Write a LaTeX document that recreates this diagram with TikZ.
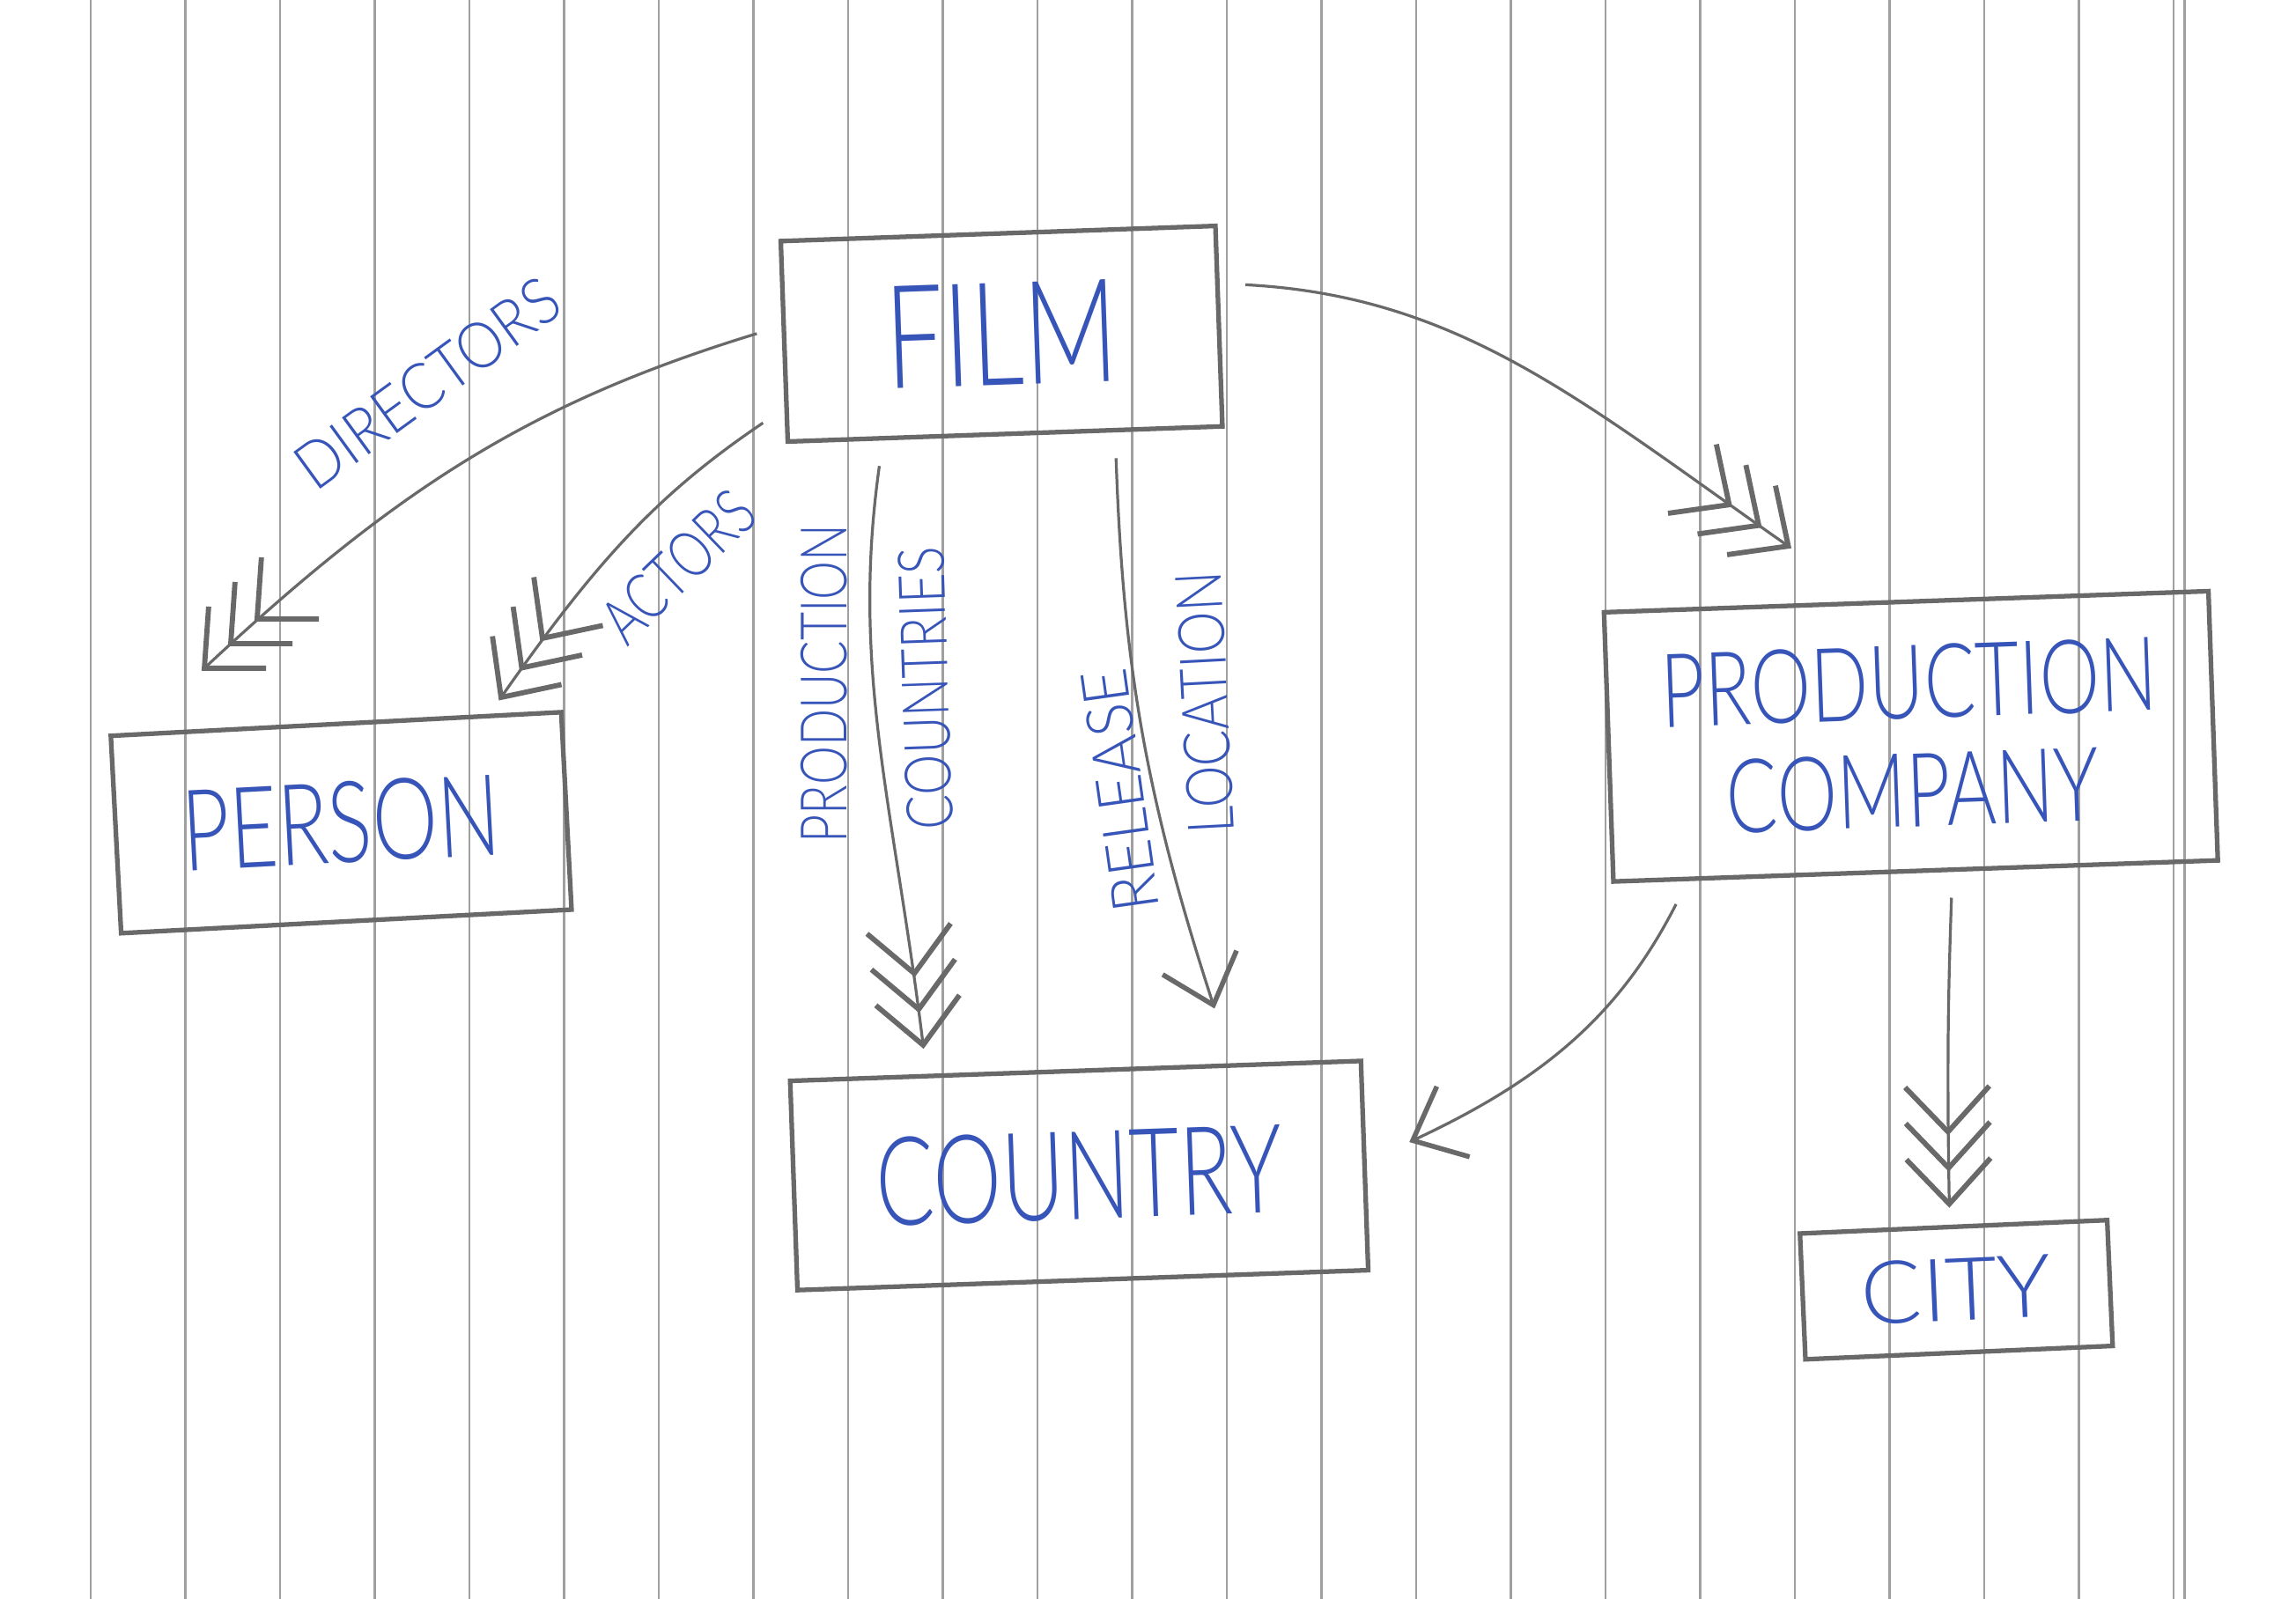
\documentclass[tikz,border=0pt]{standalone}
\usepackage{fontspec}
\usepackage{graphicx}
\setmainfont{Lato}[UprightFont=* Light]
\usetikzlibrary{arrows.meta}

\definecolor{ink}{RGB}{55,85,185}
\definecolor{pencil}{RGB}{105,105,105}
\definecolor{ruling}{RGB}{160,160,160}
\newcommand{\hand}[2][0.8]{\scalebox{#1}[1]{#2}}

\begin{document}
\begin{tikzpicture}[>={Straight Barb[angle=82:11.5pt,line width=0.95pt]},thin]
    \tikzset{entity/.style={draw=pencil, line width=0.9pt, inner sep=0pt, text=ink}}
    \tikzset{role/.style={text=ink, inner sep=0pt, font=\fontsize{12.5}{14}\selectfont}}
    \tikzset{link/.style={draw=pencil, line width=0.55pt, shorten <=5pt}}
    \tikzset{many/.style={-{Straight Barb[angle=86:12pt,line width=1pt,sep=-3pt]
        Straight Barb[angle=86:12pt,line width=1pt,sep=-3pt]
        Straight Barb[angle=86:12pt,line width=1pt,sep=-3pt]}}}
    \fill[white] (0,0) rectangle (15.68,10.92);
    \useasboundingbox (0,0) rectangle (15.68,10.92);
    \foreach \k in {0,...,22}
        \draw[ruling, line width=0.45pt] ({0.62+0.6465*\k},0) -- ++(0,10.92);
    \draw[ruling, line width=0.45pt] (14.92,0) -- ++(0,10.92);

    % entities
    \node[entity, minimum width=2.97cm, minimum height=1.37cm, rotate=2, font=\fontsize{28}{30}\selectfont] (film) at (6.84,8.64) {\hand[0.72]{FILM}};
    \node[entity, minimum width=3.08cm, minimum height=1.35cm, rotate=3, font=\fontsize{22}{24}\selectfont] (person) at (2.33,5.30) {\hand[0.73]{PERSON}};
    \node[entity, minimum width=3.90cm, minimum height=1.43cm, rotate=2, font=\fontsize{24}{26}\selectfont] (country) at (7.37,2.89) {\hand[0.7]{COUNTRY}};
    \node[entity, minimum width=4.13cm, minimum height=1.84cm, rotate=2, align=center, font=\fontsize{20}{21}\selectfont] (prodco) at (13.05,5.89) {\hand[0.74]{PRODUCTION}\\\hand[0.74]{COMPANY}};
    \node[entity, minimum width=2.10cm, minimum height=0.86cm, rotate=2.5, font=\fontsize{17}{19}\selectfont] (city) at (13.36,2.11) {\hand[1.03]{CITY}};

    % roles
    \node[role, rotate=36] (dirlabel) at (2.92,8.30) {\hand[0.9]{DIRECTORS}};
    \node[role, rotate=44] (actlabel) at (4.63,7.05) {\hand[0.76]{ACTORS}};
    \node[role, rotate=90] (prodlabel) at (5.63,6.25) {\hand[0.76]{PRODUCTION}};
    \node[role, rotate=92] (ctrylabel) at (6.32,6.22) {\hand[0.8]{COUNTRIES}};
    \node[role, rotate=98] (rellabel) at (7.65,5.52) {\hand[0.94]{RELEASE}};
    \node[role, rotate=93] (loclabel) at (8.23,6.12) {\hand[0.83]{LOCATION}};

    \path[link] (film.176) edge[many, out=197, in=43] ([shift={(-0.84,0.42)}]person.north);
    \path[link] (film.197) edge[many, out=214, in=55] ([shift={(-0.38,0.15)}]person.north east);
    \path[link] (film.220) edge[many, out=262, in=97] ([shift={(-1.05,0.24)}]country.north);
    \path[link] (film.317) edge[->, out=272, in=108] ([shift={(0.95,0.41)}]country.north);
    \path[link] (film.11) edge[many, out=-3, in=145] ([shift={(-0.87,0.41)}]prodco.north);
    \path[link] (prodco.211) edge[->, out=243, in=25] ([shift={(0.29,0.16)}]country.east);
    \path[link] (prodco.-75) edge[many, out=-92, in=91] ([shift={(-0.03,0.22)}]city.north);
\end{tikzpicture}
\end{document}
